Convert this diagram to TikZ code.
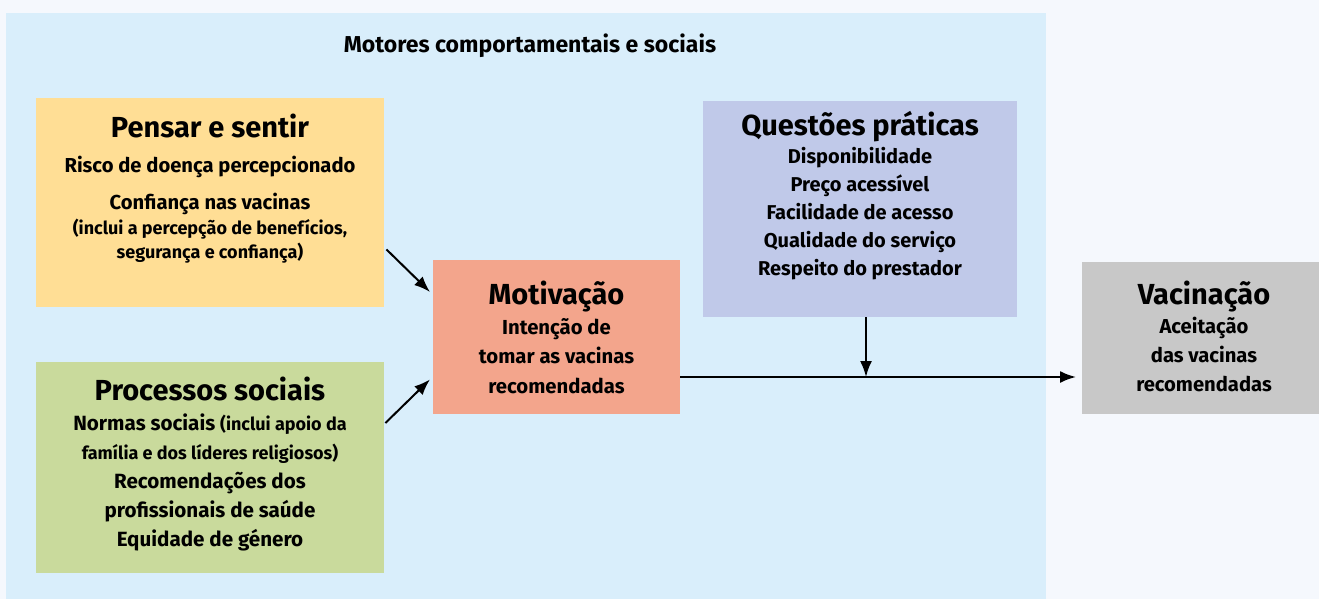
\documentclass[tikz,border=0pt]{standalone}
\usepackage{fontspec}
\setmainfont{Fira Sans}
\usepackage{tikz}
\usetikzlibrary{arrows.meta}
\usetikzlibrary{positioning}
\definecolor{pagebg}{HTML}{F5F8FD}
\definecolor{panelbg}{HTML}{D9EEFB}
\definecolor{pensarbg}{HTML}{FFDE95}
\definecolor{socialbg}{HTML}{C9DA9C}
\definecolor{motivbg}{HTML}{F3A58C}
\definecolor{questbg}{HTML}{C0C9E9}
\definecolor{vacinabg}{HTML}{C8C8C8}
\tikzstyle{every node}+=[inner sep=0pt]
\tikzstyle{block} = [rectangle, anchor=north west, inner sep=0pt]
\tikzstyle{blocktext} = [anchor=north, align=center, font=\bfseries]
\tikzstyle{line} = [draw, line width=2pt, -{Latex[length=16pt, width=12pt]}]
\newcommand{\headA}{\fontsize{29}{31}\selectfont}
\newcommand{\smalltxt}{\fontsize{18}{24}\selectfont}

\begin{document}
\begin{tikzpicture}[x=1pt, y=-1pt]
            \useasboundingbox (0,0) rectangle (1319,599);
            \fill [pagebg] (0,0) rectangle (1319,599);
            % Place nodes
            \node [block, fill=panelbg, minimum width=1040pt, minimum height=586pt] (panel) at (6,13) {};
            \node [font=\bfseries\fontsize{23}{26}\selectfont, anchor=base] (title) at (530,53) {Motores comportamentais e sociais};
            \node [block, fill=pensarbg, minimum width=348pt, minimum height=209pt] (pensar) at (36,98) {};
            \node [blocktext, font=\bfseries\fontsize{20.2}{24}\selectfont] (pensartxt) at (210,114)
              {{\headA Pensar e sentir}\\[11pt]
               Risco de doença percepcionado\\[13pt]
               Confiança nas vacinas\\[1pt]
               {\smalltxt (inclui a percepção de benefícios,}\\
               {\smalltxt segurança e confiança)}};
            \node [block, fill=socialbg, minimum width=348pt, minimum height=211pt] (social) at (36,362) {};
            \node [blocktext, font=\bfseries\fontsize{20.6}{29}\selectfont] (socialtxt) at (210,376.5)
              {{\headA Processos sociais}\\[1pt]
               Normas sociais {\smalltxt (inclui apoio da}\\
               {\smalltxt família e dos líderes religiosos)}\\
               Recomendações dos\\
               profissionais de saúde\\
               Equidade de género};
            \node [block, fill=motivbg, minimum width=247pt, minimum height=154pt] (motiv) at (433,260) {};
            \node [blocktext, font=\bfseries\fontsize{20.3}{29.5}\selectfont] (motivtxt) at (556.5,281)
              {{\headA Motivação}\\
               Intenção de\\
               tomar as vacinas\\
               recomendadas};
            \node [block, fill=questbg, minimum width=314pt, minimum height=216pt] (quest) at (703,101) {};
            \node [blocktext, font=\bfseries\fontsize{20}{28}\selectfont] (questtxt) at (860,110.8)
              {{\headA Questões práticas}\\
               Disponibilidade\\
               Preço acessível\\
               Facilidade de acesso\\
               Qualidade do serviço\\
               Respeito do prestador};
            \node [block, fill=vacinabg, minimum width=237pt, minimum height=152pt] (vacina) at (1082,262) {};
            \node [blocktext, font=\bfseries\fontsize{20.2}{29}\selectfont] (vacinatxt) at (1204,280.5)
              {{\headA Vacinação}\\
               Aceitação\\
               das vacinas\\
               recomendadas};
            \coordinate (join) at (866,377);
            % Draw edges
            \path [line] ([xshift=2pt, yshift=58pt]pensar.south east) -- ([xshift=-3pt, yshift=-32pt]motiv.north west);
            \path [line] ([xshift=1pt, yshift=-61pt]social.north east) -- ([xshift=-3pt, yshift=35pt]motiv.south west);
            \path [line] (motiv.east |- join) -- ([xshift=-6pt]vacina.west |- join);
            \path [line] (quest.south -| join) -- (join);
          \end{tikzpicture}
\end{document}
